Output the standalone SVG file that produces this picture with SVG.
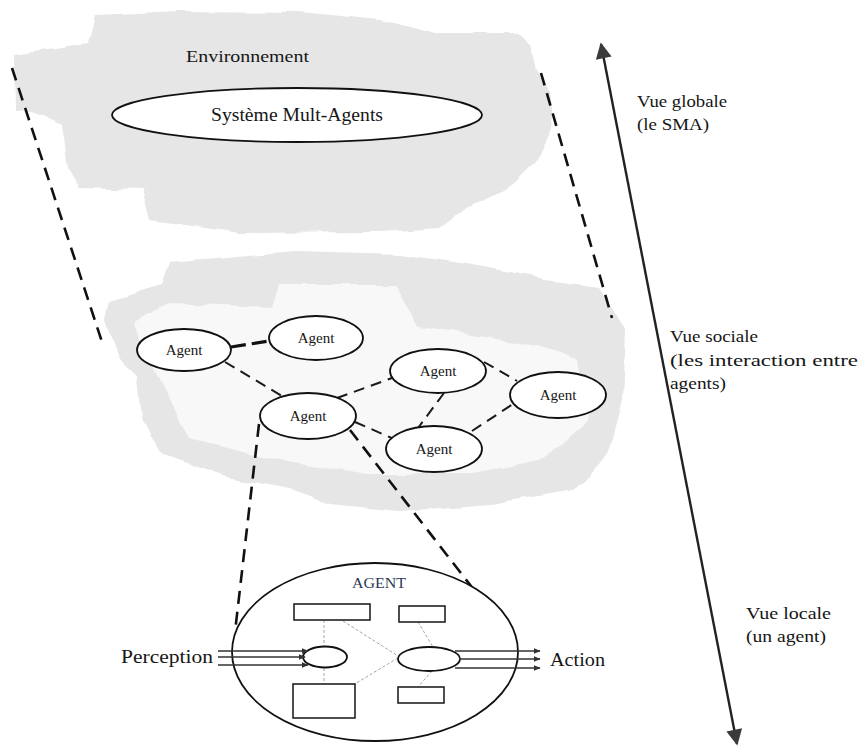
<svg xmlns="http://www.w3.org/2000/svg" width="863" height="752" viewBox="0 0 863 752">
  <style>
    text { font-family: "Liberation Serif", "Times New Roman", serif; fill: #161616; }
    .cloud { fill: #e6e6e6; }
    .inner { fill: #f8f8f8; }
    .node { fill: #ffffff; stroke: #111; stroke-width: 1.8; }
    .lbl { font-size: 15px; text-anchor: middle; }
    .side { font-size: 17px; }
    .link { stroke: #1a1a1a; stroke-width: 2; stroke-dasharray: 11 7; fill: none; }
    .zoom { stroke: #111; stroke-width: 2.6; stroke-dasharray: 13 8; fill: none; }
    .box { fill: #fff; stroke: #222; stroke-width: 1.6; }
    .thin { stroke: #9a9a9a; stroke-width: 0.9; stroke-dasharray: 3 2; fill: none; }
    .flow { stroke: #333; stroke-width: 1.6; fill: none; }
  </style>
  <defs>
    <marker id="tri" viewBox="0 0 10 10" refX="9" refY="5" markerWidth="7" markerHeight="7" orient="auto-start-reverse" markerUnits="userSpaceOnUse">
      <path d="M0,1 L10,5 L0,9 z" fill="#333"/>
    </marker>
    <marker id="big" viewBox="0 0 10 10" refX="9" refY="5" markerWidth="18" markerHeight="16" orient="auto-start-reverse" markerUnits="userSpaceOnUse">
      <path d="M0,0 L10,5 L0,10 z" fill="#3a3a3a"/>
    </marker>
    <!-- rough, lightly speckled edge for the cloud areas -->
    <filter id="grain" x="-5%" y="-5%" width="110%" height="110%">
      <feTurbulence type="fractalNoise" baseFrequency="0.03" numOctaves="2" seed="3" result="warp"/>
      <feDisplacementMap in="SourceGraphic" in2="warp" scale="8" xChannelSelector="R" yChannelSelector="G" result="shape"/>
      <feTurbulence type="fractalNoise" baseFrequency="1.1" numOctaves="1" seed="7" result="fine"/>
      <feColorMatrix in="fine" type="matrix" values="0 0 0 0 0.82  0 0 0 0 0.82  0 0 0 0 0.82  0 0 0 1.0 -0.55" result="speck"/>
      <feComposite in="speck" in2="shape" operator="in" result="speckIn"/>
      <feMerge><feMergeNode in="shape"/><feMergeNode in="speckIn"/></feMerge>
    </filter>
    <filter id="soft" x="-5%" y="-5%" width="110%" height="110%">
      <feTurbulence type="fractalNoise" baseFrequency="0.03" numOctaves="2" seed="5" result="warp"/>
      <feDisplacementMap in="SourceGraphic" in2="warp" scale="8" xChannelSelector="R" yChannelSelector="G"/>
    </filter>
  </defs>

  <!-- environment cloud (global level) -->
  <g id="environment">
    <path class="cloud" filter="url(#grain)" d="M15,55 L88,44 L95,15 L180,11 L300,12 L380,20 L435,33 L520,33 L528,44 L536,68 L550,90 L552,110 L548,135 L535,162 L508,188 L468,207 L440,228 L380,232 L240,233 L150,220 L142,190 L80,188 L68,168 L62,124 L45,114 L16,112 Z"/>
    <text x="186" y="62" style="font-size:17px" textLength="123" lengthAdjust="spacingAndGlyphs">Environnement</text>
  </g>
  <g id="sma">
    <ellipse class="node" cx="297" cy="115" rx="185" ry="27"/>
    <text x="211" y="121" style="font-size:18px" textLength="172" lengthAdjust="spacingAndGlyphs">Système Mult-Agents</text>
  </g>

  <!-- society cloud (social level) -->
  <g id="society">
    <path class="cloud" filter="url(#grain)" d="M170,262 L294,251 L401,254 L473,265 L544,279 L598,286 L626,330 L623,401 L609,454 L573,490 L491,504 L401,511 L330,504 L294,490 L223,476 L162,454 L141,419 L137,376 L118,358 L105,319 L109,301 L162,286 Z"/>
    <path class="inner" filter="url(#soft)" d="M132,322 L169,304 L273,308 L280,285 L394,285 L419,326 L544,347 L578,360 L589,419 L544,459 L473,474 L366,474 L276,459 L189,438 L171,401 L143,345 Z"/>
  </g>

  <!-- connectors -->
  <g id="connectors">
    <line class="zoom" x1="12" y1="68" x2="102" y2="342"/>
    <line class="zoom" x1="541" y1="73" x2="612" y2="318"/>
    <line x1="231" y1="347" x2="269" y2="341" stroke="#111" stroke-width="3.2" stroke-dasharray="15 6"/>
    <line class="link" x1="225" y1="362" x2="282" y2="396"/>
    <line class="link" x1="337" y1="398" x2="392" y2="378"/>
    <line class="link" x1="484" y1="362" x2="517" y2="381"/>
    <line class="link" x1="444" y1="393" x2="418" y2="428"/>
    <line class="link" x1="355" y1="422" x2="394" y2="439"/>
    <line class="link" x1="472" y1="431" x2="513" y2="404"/>
    <line class="zoom" x1="259" y1="424" x2="235" y2="632"/>
    <line class="zoom" x1="350" y1="430" x2="474" y2="590"/>
    <line x1="601" y1="44" x2="737" y2="744" stroke="#222" stroke-width="2.4" marker-start="url(#big)" marker-end="url(#big)"/>
  </g>

  <!-- agents of the society -->
  <g id="agent1"><ellipse class="node" cx="184" cy="350" rx="47" ry="21"/><text class="lbl" x="184" y="355">Agent</text></g>
  <g id="agent2"><ellipse class="node" cx="316" cy="338" rx="47" ry="22"/><text class="lbl" x="316" y="343">Agent</text></g>
  <g id="agent3"><ellipse class="node" cx="308" cy="416" rx="48" ry="23"/><text class="lbl" x="308" y="421">Agent</text></g>
  <g id="agent4"><ellipse class="node" cx="438" cy="371" rx="48" ry="22"/><text class="lbl" x="438" y="376">Agent</text></g>
  <g id="agent5"><ellipse class="node" cx="558" cy="395" rx="48" ry="23"/><text class="lbl" x="558" y="400">Agent</text></g>
  <g id="agent6"><ellipse class="node" cx="434" cy="449" rx="48" ry="23"/><text class="lbl" x="434" y="454">Agent</text></g>

  <!-- single agent (local level) -->
  <g id="agent-detail">
    <ellipse class="node" cx="375" cy="652" rx="143" ry="89" stroke-width="1.6"/>
    <text x="352" y="588" style="font-size:14px; fill:#2d3a55" textLength="54" lengthAdjust="spacingAndGlyphs">AGENT</text>
    <line class="thin" x1="324" y1="620" x2="324" y2="647"/>
    <line class="thin" x1="324" y1="668" x2="324" y2="684"/>
    <line class="thin" x1="343" y1="621" x2="398" y2="656"/>
    <line class="thin" x1="418" y1="622" x2="433" y2="647"/>
    <line class="thin" x1="398" y1="658" x2="353" y2="685"/>
    <line class="thin" x1="432" y1="671" x2="418" y2="687"/>
    <rect class="box" x="294" y="604" width="76" height="16"/>
    <rect class="box" x="399" y="606" width="46" height="16"/>
    <rect class="box" x="293" y="684" width="62" height="34"/>
    <rect class="box" x="398" y="687" width="46" height="16"/>
    <ellipse class="node" cx="325" cy="657" rx="22" ry="10.5" stroke-width="1.6"/>
    <ellipse class="node" cx="429" cy="659" rx="31" ry="12" stroke-width="1.6"/>
  </g>

  <g id="perception">
    <text x="121" y="663" style="font-size:18px" textLength="92" lengthAdjust="spacingAndGlyphs">Perception</text>
    <line class="flow" x1="218" y1="651" x2="308" y2="651" marker-end="url(#tri)"/>
    <line class="flow" x1="218" y1="657" x2="305" y2="657" marker-end="url(#tri)"/>
    <line class="flow" x1="218" y1="665" x2="308" y2="665" marker-end="url(#tri)"/>
  </g>
  <g id="action">
    <line class="flow" x1="455" y1="651" x2="540" y2="651" marker-end="url(#tri)"/>
    <line class="flow" x1="459" y1="659" x2="540" y2="659" marker-end="url(#tri)"/>
    <line class="flow" x1="455" y1="668" x2="540" y2="668" marker-end="url(#tri)"/>
    <text x="550" y="666" style="font-size:18px" textLength="55" lengthAdjust="spacingAndGlyphs">Action</text>
  </g>

  <!-- scale labels -->
  <g id="view-labels">
    <text class="side" x="637" y="107" textLength="90" lengthAdjust="spacingAndGlyphs">Vue globale</text>
    <text class="side" x="637" y="130" textLength="72" lengthAdjust="spacingAndGlyphs">(le SMA)</text>
    <text class="side" x="670" y="342" textLength="88" lengthAdjust="spacingAndGlyphs">Vue sociale</text>
    <text class="side" x="670" y="366" textLength="188" lengthAdjust="spacingAndGlyphs">(les interaction entre</text>
    <text class="side" x="670" y="389" textLength="56" lengthAdjust="spacingAndGlyphs">agents)</text>
    <text class="side" x="746" y="619" textLength="85" lengthAdjust="spacingAndGlyphs">Vue locale</text>
    <text class="side" x="746" y="642" textLength="80" lengthAdjust="spacingAndGlyphs">(un agent)</text>
  </g>
</svg>
